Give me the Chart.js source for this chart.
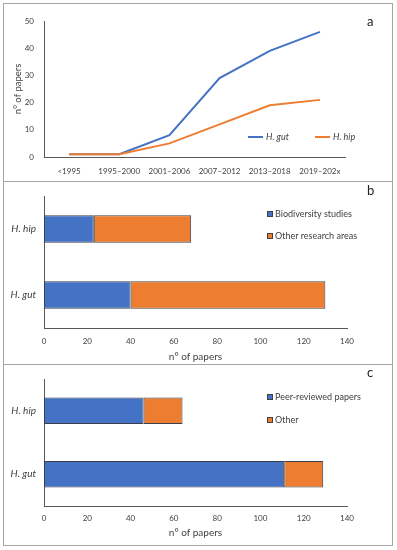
<!DOCTYPE html>
<html>
<head>
<meta charset="utf-8">
<script src="https://cdn.jsdelivr.net/npm/chart.js@4.4.1/dist/chart.umd.min.js"></script>
<style>
  body { margin: 0; background: #fff; }
  .panel { position: absolute; left: 3px; width: 390px; box-sizing: border-box; border: 1px solid #a6a6a6; background: #fff; }
  .panel canvas { display: block; }
  .tag { position: absolute; font: 13px Lato, sans-serif; color: #222; }
</style>
</head>
<body>
<div class="panel" style="top:3px;height:179px"><canvas id="chart-a" width="388" height="177"></canvas><span class="tag" style="left:363px;top:9px">a</span></div>
<div class="panel" style="top:181px;height:184px"><canvas id="chart-b" width="388" height="182"></canvas><span class="tag" style="left:363px;top:0px">b</span></div>
<div class="panel" style="top:364px;height:182px"><canvas id="chart-c" width="388" height="180"></canvas><span class="tag" style="left:363px;top:-1px">c</span></div>
<script>
// panel a: papers per period
const periods = ["<1995", "1995–2000", "2001–2006", "2007–2012", "2013–2018", "2019–202x"];
const gutPapers = [1, 1, 8, 29, 39, 46];
const hipPapers = [1, 1, 5, 12, 19, 21];

// panels b and c: totals per species
const species = ["H. hip", "H. gut"];
const biodiversityStudies = [23, 40];
const otherResearch = [45, 90];
const peerReviewed = [46, 111];
const otherPapers = [18, 18];

const blue = "#4472C4";
const orange = "#ED7D31";
const axisColor = "#595959";

Chart.defaults.font.family = "Lato, sans-serif";
Chart.defaults.font.size = 8;
Chart.defaults.color = "#404040";

// legend drawn inside the plot area, like the excel original
const insideLegend = {
  id: "insideLegend",
  afterDraw(chart, args, opts) {
    const ctx = chart.ctx;
    ctx.save();
    ctx.textBaseline = "middle";
    chart.data.datasets.forEach((ds, i) => {
      const [x, y] = opts.spots[i];
      if (opts.kind == "line") {
        ctx.strokeStyle = ds.borderColor;
        ctx.lineWidth = 2;
        ctx.beginPath();
        ctx.moveTo(x, y);
        ctx.lineTo(x + 15, y);
        ctx.stroke();
        ctx.font = "italic 9px Lato, sans-serif";
        ctx.fillStyle = "#404040";
        ctx.fillText(ds.label, x + 18, y);
      } else {
        ctx.fillStyle = ds.backgroundColor;
        ctx.fillRect(x, y - 3, 6, 6);
        ctx.strokeStyle = "#404040";
        ctx.lineWidth = 1;
        ctx.strokeRect(x + 0.5, y - 2.5, 5, 5);
        ctx.font = "9px Lato, sans-serif";
        ctx.fillStyle = "#404040";
        ctx.fillText(ds.label, x + 8, y);
      }
    });
    ctx.restore();
  },
};

new Chart(document.getElementById("chart-a"), {
  type: "line",
  data: {
    labels: periods,
    datasets: [
      { label: "H. gut", data: gutPapers, borderColor: blue, order: 1 },
      { label: "H. hip", data: hipPapers, borderColor: orange, order: 0 },
    ],
  },
  options: {
    responsive: false,
    animation: false,
    layout: { padding: { left: 0, right: 47, top: 17, bottom: 0 } },
    elements: {
      line: { borderWidth: 2, tension: 0 },
      point: { radius: 0 },
    },
    scales: {
      x: {
        offset: true,
        grid: { display: false, drawTicks: false },
        border: { display: true, color: axisColor },
        ticks: { padding: 10, maxRotation: 0, autoSkip: false },
        afterFit: (scale) => { scale.height = 24; },
      },
      y: {
        min: 0,
        max: 50,
        grid: { display: false, drawTicks: false },
        border: { display: true, color: axisColor },
        ticks: { stepSize: 10, padding: 10 },
        title: { display: true, text: "n° of papers", font: { size: 9.5 }, padding: { top: 8, bottom: 0 } },
        afterFit: (scale) => { scale.width = 40; },
      },
    },
    plugins: {
      legend: { display: false },
      tooltip: { enabled: false },
      insideLegend: { kind: "line", spots: [[244, 133], [311, 133]] },
    },
  },
  plugins: [insideLegend],
});

function stackedBars(id, firstLabel, firstData, secondLabel, secondData, pad, xHeight, titlePad, tickPad, spots) {
  new Chart(document.getElementById(id), {
    type: "bar",
    data: {
      labels: species,
      datasets: [
        { label: firstLabel, data: firstData, backgroundColor: blue },
        { label: secondLabel, data: secondData, backgroundColor: orange },
      ],
    },
    options: {
      indexAxis: "y",
      responsive: false,
      animation: false,
      layout: { padding: pad },
      datasets: {
        bar: { borderColor: "#3a3f4a", borderWidth: 1, borderSkipped: false, barPercentage: 0.42, categoryPercentage: 1 },
      },
      scales: {
        x: {
          stacked: true,
          min: 0,
          max: 140,
          grid: { display: false, drawTicks: false },
          border: { display: true, color: axisColor },
          ticks: { stepSize: 20, padding: tickPad },
          title: { display: true, text: "n° of papers", font: { size: 10 }, padding: { top: 0, bottom: titlePad } },
          afterFit: (scale) => { scale.height = xHeight; },
        },
        y: {
          stacked: true,
          grid: { display: false, drawTicks: false },
          border: { display: true, color: axisColor },
          ticks: { padding: 8, font: { style: "italic", size: 10 } },
          afterFit: (scale) => { scale.width = 40; },
        },
      },
      plugins: {
        legend: { display: false },
        tooltip: { enabled: false },
        insideLegend: { kind: "box", spots: spots },
      },
    },
    plugins: [insideLegend],
  });
}

stackedBars("chart-b", "Biodiversity studies", biodiversityStudies, "Other research areas", otherResearch,
  { left: 0, right: 45, top: 13, bottom: 0 }, 36, 1, 9, [[263, 32], [263, 54]]);
stackedBars("chart-c", "Peer-reviewed papers", peerReviewed, "Other", otherPapers,
  { left: 0, right: 45, top: 10, bottom: 0 }, 39, 6, 8, [[263, 32], [263, 55]]);
</script>
</body>
</html>
